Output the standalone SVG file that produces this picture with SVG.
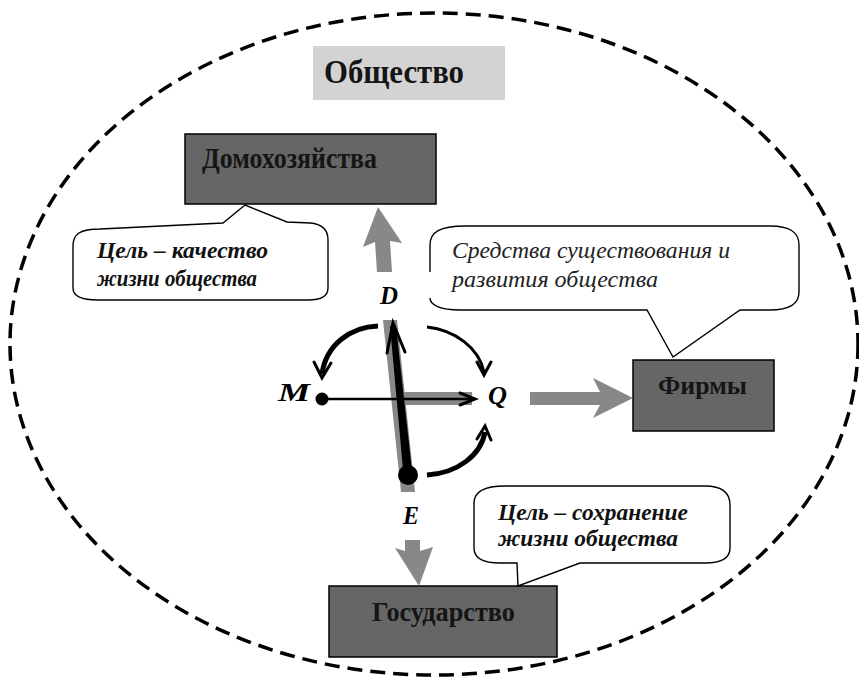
<svg xmlns="http://www.w3.org/2000/svg" width="859" height="680" viewBox="0 0 859 680">
<style>
.box{fill:#666666;stroke:#000;stroke-width:1.5}
.boxt{font-family:"Liberation Serif","Times New Roman",serif;font-weight:bold;fill:#151515}
.call{fill:#fff;stroke:#000;stroke-width:1.4;stroke-linejoin:miter}
.ct{font-family:"Liberation Serif","Times New Roman",serif;font-weight:bold;font-style:italic;font-size:23px;fill:#111}
.ci{font-family:"Liberation Serif","Times New Roman",serif;font-style:italic;font-size:23px;fill:#222}
.lbl{font-family:"Liberation Serif","Times New Roman",serif;font-weight:bold;font-style:italic;font-size:25px;fill:#000}
.gray{fill:#888888}
.blk{fill:none;stroke:#000;stroke-linecap:butt}
.head{fill:none;stroke:#000;stroke-width:3;stroke-linejoin:miter;stroke-linecap:round}
</style>
<rect width="859" height="680" fill="#fff"/>
<ellipse id="society-boundary" cx="434" cy="344" rx="424" ry="331" fill="none" stroke="#000" stroke-width="3.5" stroke-dasharray="15 8"/>

<g id="obshchestvo">
<rect x="313" y="46" width="192" height="54" fill="#d3d3d3"/>
<text class="boxt" x="324" y="83" font-size="34" textLength="140" lengthAdjust="spacingAndGlyphs">Общество</text>
</g>

<g id="domokhozyaystva">
<rect class="box" x="185" y="134" width="251" height="70"/>
<text class="boxt" x="202" y="168" font-size="29" textLength="175" lengthAdjust="spacingAndGlyphs">Домохозяйства</text>
</g>

<g id="firmy">
<rect class="box" x="633" y="360" width="141" height="71"/>
<text class="boxt" x="658" y="394" font-size="26" textLength="89" lengthAdjust="spacingAndGlyphs">Фирмы</text>
</g>

<g id="gosudarstvo">
<rect class="box" x="329" y="586" width="228" height="71"/>
<text class="boxt" x="372" y="621" font-size="28" textLength="143" lengthAdjust="spacingAndGlyphs">Государство</text>
</g>

<g id="callout-kachestvo">
<path class="call" d="M73,246 C73,234 80,229 100,229 L223,223 L245,205 L287,222 L310,223 C323,224 328,230 328,240 L328,288 C328,296 322,300 308,300 L98,300 C82,300 73,296 73,288 Z"/>
<text class="ct" x="97" y="258" textLength="171" lengthAdjust="spacingAndGlyphs">Цель – качество</text>
<text class="ct" x="97" y="286" textLength="160" lengthAdjust="spacingAndGlyphs">жизни общества</text>
</g>

<g id="callout-sredstva">
<path d="M430,298 C430,305 440,310 460,310 L647,310 L673,357 L740,310 L770,310 C790,310 799,303 799,292 L799,245 C799,232 790,226 770,226 L465,226 C440,226 430,232 430,245 Z" fill="#fff"/>
<path class="call" d="M430,298 C430,305 440,310 460,310 L647,310 L673,357 L740,310 L770,310 C790,310 799,303 799,292 L799,245 C799,232 790,226 770,226 L465,226 C440,226 430,232 430,245 L430,272" style="fill:none"/>
<text class="ci" x="452" y="258" textLength="278" lengthAdjust="spacingAndGlyphs">Средства существования и</text>
<text class="ci" x="452" y="287" textLength="206" lengthAdjust="spacingAndGlyphs">развития общества</text>
</g>

<g id="callout-sokhranenie">
<path class="call" d="M474,503 C474,492 484,486 505,486 L705,486 C722,486 730,493 730,505 L730,548 C730,558 722,563 705,563 L580,563 L518,586 L517,563 L500,563 C483,563 474,558 474,548 Z"/>
<text class="ct" x="498" y="520" textLength="190" lengthAdjust="spacingAndGlyphs">Цель – сохранение</text>
<text class="ct" x="498" y="546" textLength="180" lengthAdjust="spacingAndGlyphs">жизни общества</text>
</g>

<g id="connectors">
<polygon class="gray" points="377,272 392,272 390,241 402,243 378,207 363,247 375,242"/>
<polygon class="gray" points="405,540 420,540 420,551 433,547 419,586 395,548 405,551"/>
<polygon class="gray" points="530,392 600,392 593,378 633,398 593,418 600,405 530,405"/>
<polygon class="gray" points="383,320 397,320 415,492 401,492"/>
<rect class="gray" x="403" y="392" width="69" height="13"/>
<path class="blk" stroke-width="5" d="M378,326 C350,327 326,345 322,374"/>
<polyline class="head" points="314,362 322,378 331,363"/>
<path class="blk" stroke-width="3" d="M427,327 C455,330 479,348 484,372"/>
<polyline class="head" points="477,362 484,375 491,362"/>
<path class="blk" stroke-width="5" d="M427,475 C458,473 481,455 485,432"/>
<polyline class="head" points="477,439 485,426 491,440"/>
<line class="blk" stroke-width="2.5" x1="322" y1="399" x2="474" y2="399"/>
<polyline class="head" stroke-width="2.5" points="460,393 475,399 460,405"/>
<polygon points="403.5,475 412.5,475 396,326 390,326" fill="#000"/>
<polyline class="head" points="387,353 393,323 405,352"/>
</g>

<g id="circuit-points">
<circle cx="322" cy="399" r="6.5" fill="#000"/>
<circle cx="408" cy="475" r="10" fill="#000"/>
<text class="lbl" x="278" y="401" textLength="32" lengthAdjust="spacingAndGlyphs">M</text>
<text class="lbl" x="380" y="304" textLength="18" lengthAdjust="spacingAndGlyphs">D</text>
<text class="lbl" x="488" y="404" textLength="19" lengthAdjust="spacingAndGlyphs">Q</text>
<text class="lbl" x="403" y="524" textLength="16" lengthAdjust="spacingAndGlyphs">E</text>
</g>
</svg>
